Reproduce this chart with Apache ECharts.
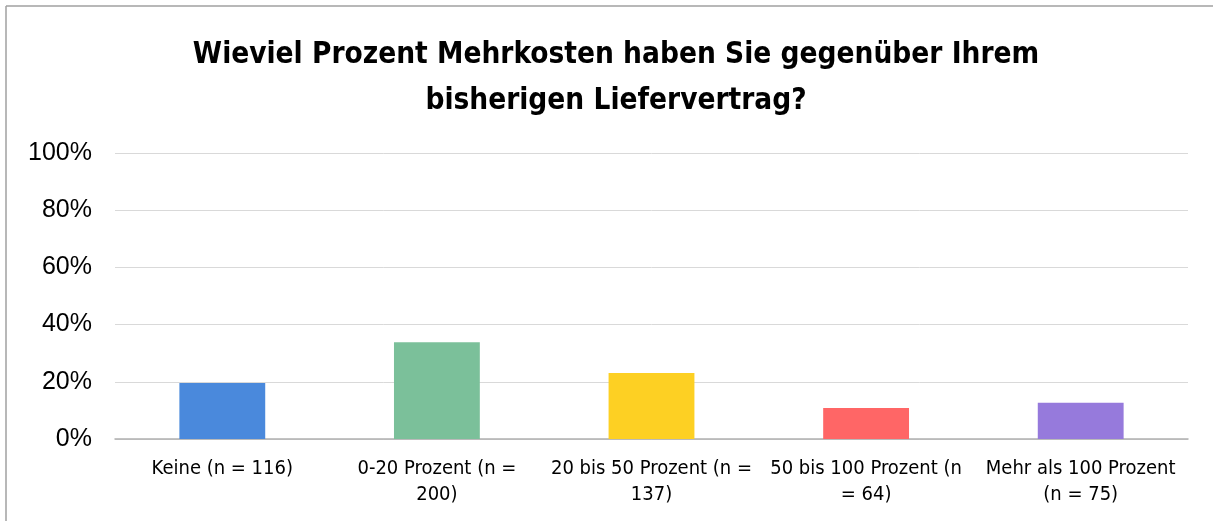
<!DOCTYPE html>
<html>
<head>
<meta charset="utf-8">
<script src="https://cdn.jsdelivr.net/npm/echarts@6/dist/echarts.min.js"></script>
<style>
html,body{margin:0;padding:0;background:#fff;}
#chart{width:1213px;height:521px;}
</style>
</head>
<body>
<div id="chart"></div>
<script>
const titleText = 'Wieviel Prozent Mehrkosten haben Sie gegenüber Ihrem\nbisherigen Liefervertrag?';
const categories = ['Keine (n = 116)', '0-20 Prozent (n =\n200)', '20 bis 50 Prozent (n =\n137)', '50 bis 100 Prozent (n\n= 64)', 'Mehr als 100 Prozent\n(n = 75)'];
const values = [19.6, 33.8, 23.1, 10.8, 12.7];
const barColors = ['#4A89DC', '#7BC09A', '#FDD023', '#FF6666', '#967ADC'];
const yTicks = [0, 20, 40, 60, 80, 100];

const chart = echarts.init(document.getElementById('chart'));
chart.setOption({
  animation: false,
  backgroundColor: '#fff',
  title: {
    text: titleText,
    left: 611,
    top: 27,
    textAlign: 'center',
    textStyle: {
      fontFamily: 'DejaVu Sans Condensed',
      fontWeight: 'bold',
      fontSize: 29.5,
      lineHeight: 46,
      color: '#000'
    }
  },
  graphic: [
    { type: 'line', shape: { x1: 6, y1: 6, x2: 1213, y2: 6 }, style: { stroke: '#a0a0a0', lineWidth: 1.5 } },
    { type: 'line', shape: { x1: 6, y1: 6, x2: 6, y2: 521 }, style: { stroke: '#a0a0a0', lineWidth: 1.5 } }
  ],
  grid: { left: 115, right: 25, top: 153, bottom: 82 },
  xAxis: {
    type: 'category',
    data: categories,
    axisLine: { lineStyle: { color: '#b0b0b0', width: 1.5 } },
    axisTick: { show: false },
    axisLabel: {
      interval: 0,
      margin: 17,
      fontFamily: 'DejaVu Sans Condensed',
      fontSize: 20,
      lineHeight: 26,
      color: '#000'
    }
  },
  yAxis: {
    type: 'value',
    min: 0,
    max: 100,
    interval: 20,
    axisLine: { show: false },
    axisTick: { show: false },
    splitLine: { lineStyle: { color: '#d9d9d9', width: 1 } },
    axisLabel: {
      margin: 23,
      fontFamily: 'Liberation Sans',
      fontSize: 25,
      color: '#000',
      formatter: v => yTicks.includes(v) ? v + '%' : ''
    }
  },
  series: [{
    type: 'bar',
    barWidth: '40%',
    data: values.map((v, i) => ({ value: v, itemStyle: { color: barColors[i] } }))
  }]
});
</script>
</body>
</html>
